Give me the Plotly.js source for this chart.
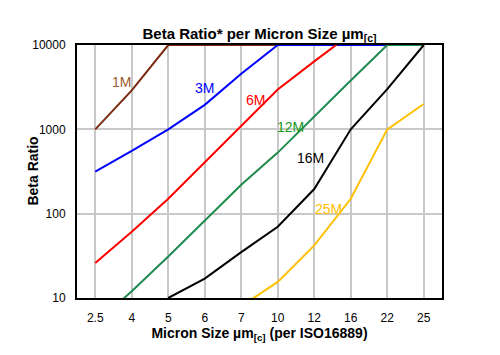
<!DOCTYPE html>
<html>
<head>
<meta charset="utf-8">
<script src="https://cdn.plot.ly/plotly-3.0.1.min.js"></script>
<style>html,body{margin:0;padding:0;background:#fff;}#chart{width:500px;height:355px;}</style>
</head>
<body>
<div id="chart"></div>
<script>
// Micron sizes (category axis)
const micronSizes = ["2.5", "4", "5", "6", "7", "10", "12", "16", "22", "25"];
// Beta ratio series (the axis tops out at 10000)
const beta1M  = [1000, 2900, 10000, 10000, 10000, 10000, null, null, null, null];
const beta3M  = [316, 555, 1000, 1950, 4550, 10000, 10000, 10000, 10000, null];
const beta6M  = [26, 61, 150, 405, 1080, 2970, 6400, 13500, null, null];
const beta12M = [5, 12, 31, 82, 220, 530, 1430, 3800, 10000, 10000];
const beta16M = [null, null, 10, 17, 35, 70, 196, 1000, 3000, 10000];
const beta25M = [null, null, null, null, 8, 15.5, 42, 150, 1000, 2000];
const seriesNames = ["1M", "3M", "6M", "12M", "16M", "25M"];
const yTickVals = [10, 100, 1000, 10000];
const yTickText = ["10", "100", "1000", "10000"];
const referenceLevel = 1000;

const seriesData = [beta1M, beta3M, beta6M, beta12M, beta16M, beta25M];
const lineColors = ["#7a2a0e", "#0000ff", "#ff0000", "#1e8a4e", "#000000", "#ffc000"];
const labelColors = ["#9c5a2e", "#0000ff", "#ff0000", "#1a9a1a", "#000000", "#ffc000"];
// label anchor: [category index, beta value]
const labelPos = [[0.71, 3600], [2.99, 3080], [4.38, 2220], [5.34, 1065], [5.89, 458], [6.38, 115]];

const font = "Liberation Sans, Arial, sans-serif";

const traces = seriesData.map((ys, i) => ({
  type: "scatter",
  mode: "lines",
  x: micronSizes,
  y: ys,
  name: seriesNames[i],
  connectgaps: false,
  line: {color: lineColors[i], width: 2},
  hoverinfo: "x+y+name"
}));

const annotations = seriesNames.map((n, i) => ({
  xref: "x", yref: "y",
  x: labelPos[i][0], y: Math.log10(labelPos[i][1]),
  text: n, showarrow: false,
  font: {family: font, size: 14, color: labelColors[i]},
  xanchor: "center", yanchor: "middle"
}));
annotations.push({
  xref: "paper", yref: "paper",
  x: -0.123, y: 0.5,
  text: "Beta Ratio", textangle: -90, showarrow: false,
  font: {family: font, size: 14, color: "#000", weight: "bold"},
  xanchor: "center", yanchor: "middle"
});

const layout = {
  width: 500, height: 355,
  margin: {l: 77, r: 58, t: 45, b: 57},
  paper_bgcolor: "#ffffff",
  plot_bgcolor: "#ffffff",
  showlegend: false,
  title: {
    text: "Beta Ratio* per Micron Size µm<sub>[c]</sub>",
    font: {family: font, size: 15, color: "#000", weight: "bold"},
    xref: "paper", x: 0.5, xanchor: "center",
    yref: "container", y: 0.905, yanchor: "middle"
  },
  xaxis: {
    type: "category",
    range: [-0.5, 9.5],
    showgrid: true, gridcolor: "#c8c8c8", gridwidth: 2,
    showline: true, linecolor: "#000", linewidth: 2, mirror: true,
    layer: "below traces",
    ticks: "", ticklabelstandoff: 8,
    tickfont: {family: font, size: 12, color: "#000"},
    title: {
      text: "Micron Size µm<sub>[c]</sub> (per ISO16889)",
      font: {family: font, size: 14, color: "#000", weight: "bold"},
      standoff: 4
    },
    zeroline: false
  },
  yaxis: {
    type: "log",
    range: [1, 4],
    tickvals: yTickVals, ticktext: yTickText,
    showgrid: true, gridcolor: "#c8c8c8", gridwidth: 2,
    showline: true, linecolor: "#000", linewidth: 2, mirror: true,
    layer: "below traces",
    ticks: "", ticklabelstandoff: 7,
    tickfont: {family: font, size: 12, color: "#000"},
    zeroline: false
  },
  shapes: [{
    type: "line", xref: "paper", yref: "y",
    x0: 0, x1: 1.03, y0: Math.log10(referenceLevel), y1: Math.log10(referenceLevel),
    line: {color: "#0000ff", width: 2, dash: "dot"},
    layer: "above"
  }],
  annotations: annotations
};

Plotly.newPlot("chart", traces, layout, {displayModeBar: false, staticPlot: true});
</script>
</body>
</html>
